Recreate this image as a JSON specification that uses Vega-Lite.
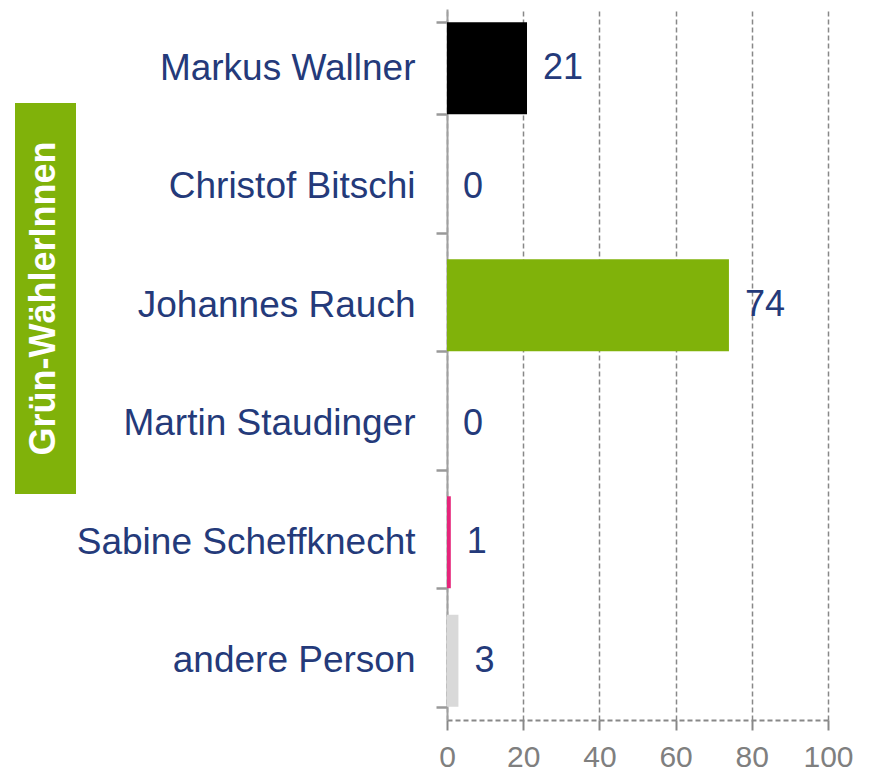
{
  "$schema": "https://vega.github.io/schema/vega-lite/v6.json",
  "padding": {"left": 15, "top": -10, "right": 5, "bottom": 0},
  "background": "white",
  "config": {
    "font": "Liberation Sans",
    "view": {"stroke": null},
    "concat": {"spacing": 0}
  },
  "datasets": {
    "votes": [
      {"name": "Markus Wallner", "value": 21},
      {"name": "Christof Bitschi", "value": 0},
      {"name": "Johannes Rauch", "value": 74},
      {"name": "Martin Staudinger", "value": 0},
      {"name": "Sabine Scheffknecht", "value": 1},
      {"name": "andere Person", "value": 3}
    ],
    "box": [{"label": "Grün-WählerInnen"}]
  },
  "hconcat": [
    {
      "width": 61,
      "height": 711,
      "data": {"name": "box"},
      "layer": [
        {
          "mark": {"type": "rect", "color": "#80b20a"},
          "encoding": {
            "x": {"datum": 0, "type": "quantitative", "scale": {"domain": [0, 1], "nice": false}, "axis": null},
            "x2": {"datum": 1},
            "y": {"datum": 0.793, "type": "quantitative", "scale": {"domain": [0, 6], "nice": false, "zero": false, "reverse": true}, "axis": null},
            "y2": {"datum": 4.093}
          }
        },
        {
          "mark": {"type": "text", "angle": 270, "align": "center", "baseline": "middle", "color": "white", "fontWeight": "bold", "fontSize": 36},
          "encoding": {
            "x": {"datum": 0.47, "type": "quantitative"},
            "y": {"datum": 2.443, "type": "quantitative"},
            "text": {"field": "label"}
          }
        }
      ]
    },
    {
      "width": 381,
      "height": 711,
      "data": {"name": "votes"},
      "encoding": {
        "y": {
          "field": "name",
          "type": "nominal",
          "sort": null,
          "scale": {"paddingInner": 0.224, "paddingOuter": 0.112},
          "axis": {
            "title": null,
            "tickBand": "extent",
            "tickSize": 11,
            "tickWidth": 2.5,
            "tickColor": "#999999",
            "domainColor": "#a0a0a0",
            "domainWidth": 2,
            "labelFontSize": 37,
            "labelColor": "#243a7a",
            "labelPadding": 21,
            "labelLimit": 0,
            "minExtent": 371,
            "maxExtent": 371
          }
        },
        "x": {
          "field": "value",
          "type": "quantitative",
          "scale": {"domain": [0, 100], "nice": false},
          "axis": {
            "title": null,
            "values": [0, 20, 40, 60, 80, 100],
            "grid": true,
            "gridDash": [5, 3],
            "gridColor": "#888888",
            "gridWidth": 1.5,
            "domainDash": [5, 3],
            "domainColor": "#888888",
            "domainWidth": 2,
            "tickColor": "#888888",
            "tickWidth": 2,
            "tickSize": 10,
            "labelFontSize": 30,
            "labelColor": "#7f7f7f",
            "labelPadding": 12,
            "labelFlush": false,
            "labelOverlap": false
          }
        }
      },
      "layer": [
        {
          "mark": {"type": "bar"},
          "encoding": {
            "color": {
              "field": "name",
              "type": "nominal",
              "scale": {
                "domain": ["Markus Wallner", "Christof Bitschi", "Johannes Rauch", "Martin Staudinger", "Sabine Scheffknecht", "andere Person"],
                "range": ["#000000", "#f29400", "#80b20a", "#e30613", "#e5247a", "#d9d9d9"]
              },
              "legend": null
            }
          }
        },
        {
          "mark": {"type": "text", "align": "left", "baseline": "middle", "dx": 16, "fontSize": 36, "color": "#243a7a"},
          "encoding": {"text": {"field": "value"}}
        }
      ]
    }
  ]
}
